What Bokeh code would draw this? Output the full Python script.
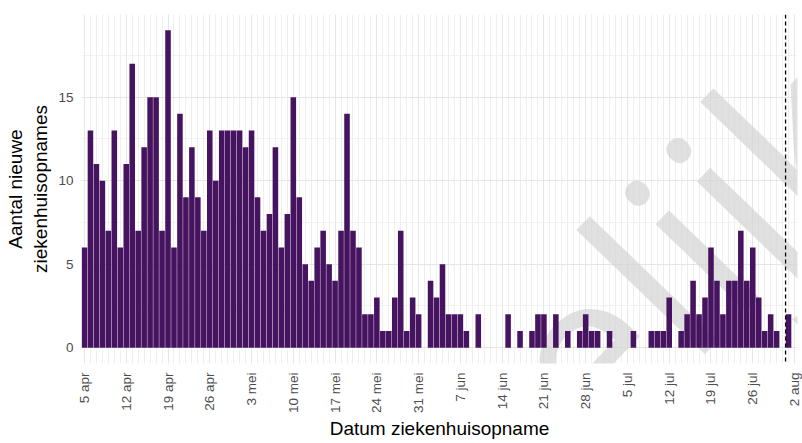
import math
import pandas as pd
from bokeh.plotting import figure
from bokeh.models import FixedTicker, Span, Range1d, ColumnDataSource
from bokeh.embed import file_html
from bokeh.resources import INLINE
from bokeh.core.properties import value

# ---- data -------------------------------------------------------------
start_date = "2020-04-05"
apr_counts = [6, 13, 11, 10, 7, 13, 6, 11, 17, 7, 12, 15, 15, 7, 19, 6, 14, 9, 12, 9,
              7, 13, 10, 13, 13, 13]
mei_counts = [13, 12, 13, 9, 7, 8, 12, 6, 8, 15, 9, 5, 4, 6, 7, 5, 4, 7, 14, 7,
              6, 2, 2, 3, 1, 1, 3, 7, 1, 3, 2]
jun_counts = [0, 4, 3, 5, 2, 2, 2, 1, 0, 2, 0, 0, 0, 0, 2, 0, 1, 0, 1, 2,
              2, 0, 2, 0, 1, 0, 1, 2, 1, 1]
jul_counts = [0, 1, 0, 0, 0, 1, 0, 0, 1, 1, 1, 3, 0, 1, 2, 4, 2, 3, 6, 4,
              2, 4, 4, 7, 4, 6, 3, 1, 2, 1, 0]
aug_counts = [2]
cutoff_date = "2020-07-31 12:00"
axis_end_date = "2020-08-02"
tick_labels = ["5 apr", "12 apr", "19 apr", "26 apr", "3 mei", "10 mei", "17 mei",
               "24 mei", "31 mei", "7 jun", "14 jun", "21 jun", "28 jun", "5 jul",
               "12 jul", "19 jul", "26 jul", "2 aug"]
y_ticks = [0, 5, 10, 15]
y_minor = [2.5, 7.5, 12.5, 17.5]
watermark_text = "Vertrouwelijk"

counts = apr_counts + mei_counts + jun_counts + jul_counts + aug_counts
start = pd.Timestamp(start_date)
dates = pd.date_range(start, periods=len(counts), freq="D")
day = [(d - start).days for d in dates]
cutoff = (pd.Timestamp(cutoff_date) - start) / pd.Timedelta(days=1)
end_day = (pd.Timestamp(axis_end_date) - start).days
week_ticks = list(range(0, end_day + 1, 7))

src = ColumnDataSource(dict(day=day, count=counts))

FONT = "Liberation Sans"
x0, x1 = -0.5, end_day + 0.5
y0, y1 = -0.05 * max(counts), max(counts) * 1.05

p = figure(width=802, height=443, output_backend="svg", toolbar_location=None,
           x_range=Range1d(x0, x1), y_range=Range1d(y0, y1),
           min_border_left=81, min_border_right=5, min_border_top=14, min_border_bottom=80)
p.outline_line_color = None
p.background_fill_color = "white"
p.border_fill_color = "white"

# watermark (drawn first so that the bars cover it)
p.text(x=[125.79], y=[15.52], text=[watermark_text], angle=math.radians(46),
       text_align="right", text_baseline="alphabetic",
       text_font=value("Open Sans"), text_font_size=value("235px"),
       text_color="#d4d4d4", text_alpha=0.72)

p.vbar(x="day", top="count", bottom=0, width=0.93, source=src,
       fill_color="#45135f", line_color=None)

p.add_layout(Span(location=cutoff, dimension="height", line_color="black",
                  line_dash="4 3", line_width=1.3))

xt = FixedTicker(ticks=week_ticks, minor_ticks=list(range(0, end_day + 1)))
p.xaxis.ticker = xt
p.xaxis.major_label_overrides = {t: lab for t, lab in zip(week_ticks, tick_labels)}
p.xaxis.major_label_orientation = math.pi / 2
p.xgrid.ticker = xt
p.xgrid.grid_line_color = "#e6e6e6"
p.xgrid.grid_line_width = 1.0
p.xgrid.minor_grid_line_color = "#ebebeb"
p.xgrid.minor_grid_line_width = 0.8

yt = FixedTicker(ticks=y_ticks, minor_ticks=y_minor)
p.yaxis.ticker = yt
p.ygrid.ticker = yt
p.ygrid.grid_line_color = "#e6e6e6"
p.ygrid.grid_line_width = 1.0
p.ygrid.minor_grid_line_color = "#efefef"
p.ygrid.minor_grid_line_width = 0.8

for ax in (p.xaxis[0], p.yaxis[0]):
    ax.axis_line_color = None
    ax.major_tick_line_color = None
    ax.minor_tick_line_color = None
    ax.major_tick_out = 0
    ax.major_tick_in = 0
    ax.minor_tick_out = 0
    ax.major_label_text_font = FONT
    ax.major_label_text_color = "#4d4d4d"
    ax.major_label_text_font_size = "13.5px"
    ax.axis_label_text_font = FONT
    ax.axis_label_text_font_style = "normal"
    ax.axis_label_text_color = "black"
    ax.axis_label_text_font_size = "19px"

p.xaxis.major_label_standoff = 9
p.yaxis.major_label_standoff = 8
p.xaxis.axis_label = "Datum ziekenhuisopname"
p.xaxis.axis_label_standoff = 2
p.yaxis.axis_label = "Aantal nieuwe\nziekenhuisopnames"
p.yaxis.axis_label_standoff = 4

open("out.html", "w").write(file_html(p, INLINE))
